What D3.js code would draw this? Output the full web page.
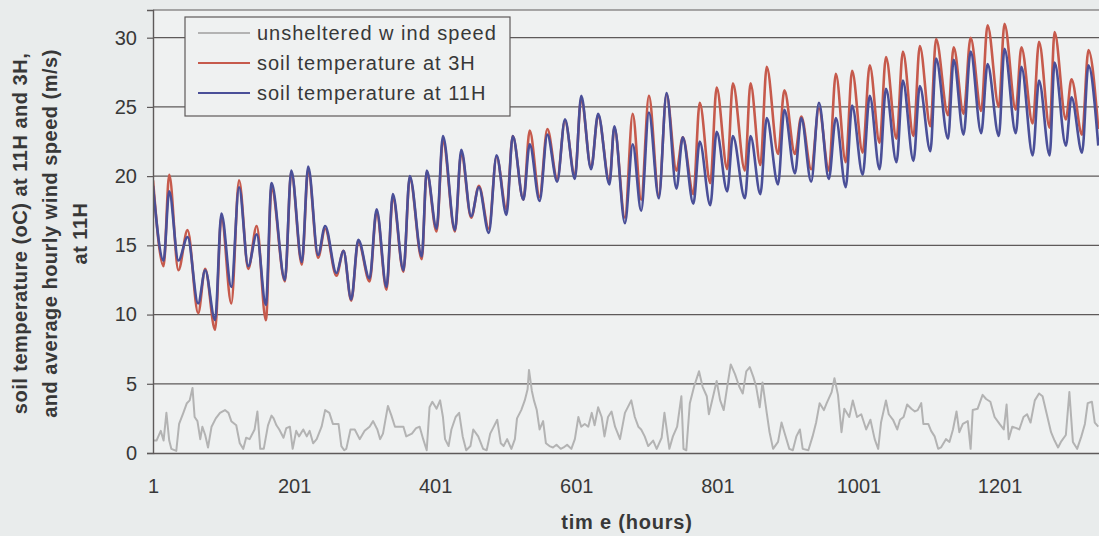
<!DOCTYPE html>
<html>
<head>
<meta charset="utf-8">
<script src="https://cdn.jsdelivr.net/npm/d3@7"></script>
<style>
  html, body { margin: 0; padding: 0; background: #e9ecec; }
  svg { display: block; font-family: "Liberation Sans", Arial, sans-serif; }
</style>
</head>
<body>
<div id="chartContainer"></div>
<script>
// turning points (daily peaks / troughs), hour index
const tempHours = [
  1, 16, 24, 37, 50, 65, 75, 89, 98, 112,
  123, 136, 148, 161, 169, 188, 197, 212, 221, 235,
  245, 261, 271, 282, 292, 308, 318, 332, 341, 356,
  365, 382, 389, 403, 412, 429, 438, 452, 463, 477,
  488, 502, 511, 526, 535, 549, 560, 574, 585, 599,
  608, 622, 632, 648, 655, 670, 681, 693, 704, 718,
  729, 743, 752, 767, 776, 791, 800, 815, 823, 840,
  848, 862, 871, 887, 896, 911, 920, 934, 945, 959,
  969, 983, 992, 1007, 1017, 1031, 1040, 1055, 1064, 1079,
  1088, 1103, 1111, 1128, 1136, 1150, 1160, 1175, 1184, 1200,
  1208, 1224, 1232, 1248, 1257, 1272, 1279, 1295, 1303, 1318,
  1327, 1341
];

// soil temperature at 11H (oC)
const soil11H = [
  19.3, 13.9, 18.9, 13.9, 15.6, 10.8, 13.2, 9.6, 17.3, 12.0,
  19.2, 13.5, 15.8, 10.7, 19.5, 12.5, 20.4, 13.8, 20.7, 14.3,
  16.4, 13.0, 14.6, 11.1, 15.4, 12.6, 17.6, 12.0, 18.7, 13.2,
  20.0, 14.2, 20.4, 16.2, 22.9, 16.1, 21.9, 17.1, 19.2, 15.9,
  21.5, 17.2, 22.9, 18.3, 22.3, 18.2, 23.0, 19.6, 24.1, 19.8,
  25.8, 20.5, 24.5, 19.4, 23.6, 16.6, 22.3, 17.5, 24.6, 18.4,
  26.0, 19.1, 22.8, 18.0, 22.5, 17.9, 23.2, 18.9, 22.9, 18.4,
  22.9, 18.7, 24.2, 19.4, 24.8, 20.2, 24.2, 19.6, 25.3, 19.8,
  24.2, 19.2, 25.1, 20.1, 25.8, 20.5, 26.3, 21.0, 26.9, 21.1,
  26.5, 21.8, 28.5, 22.7, 28.4, 23.0, 29.0, 23.1, 28.1, 22.9,
  29.2, 23.1, 27.9, 21.5, 26.9, 21.5, 28.2, 22.2, 25.7, 21.7,
  28.0, 22.2
];

// soil temperature at 3H (oC)
const soil3H = [
  19.7, 13.5, 20.1, 13.2, 16.1, 10.1, 13.3, 8.9, 17.1, 10.8,
  19.7, 13.3, 16.4, 9.6, 19.2, 12.4, 20.3, 13.6, 20.5, 14.1,
  16.2, 12.8, 14.6, 11.0, 15.3, 12.4, 17.4, 11.8, 18.5, 13.1,
  19.9, 14.0, 20.3, 16.0, 22.6, 16.0, 21.7, 17.0, 19.3, 16.2,
  21.4, 17.6, 22.9, 18.3, 23.3, 18.5, 23.4, 19.8, 24.0, 20.0,
  25.6, 20.6, 24.4, 19.6, 23.5, 17.0, 24.5, 18.3, 25.8, 18.6,
  25.9, 20.4, 22.8, 18.7, 25.3, 19.5, 26.4, 20.5, 26.7, 20.4,
  26.7, 20.8, 27.9, 21.6, 26.2, 21.6, 24.3, 20.5, 24.9, 20.4,
  27.4, 21.0, 27.6, 21.7, 28.0, 22.4, 28.6, 22.7, 29.0, 22.9,
  29.4, 23.6, 29.9, 24.4, 29.3, 24.5, 30.0, 24.7, 30.9, 25.0,
  31.0, 24.8, 29.3, 23.8, 29.7, 23.5, 30.4, 24.1, 27.0, 23.0,
  29.1, 23.4
];

// unsheltered wind speed (m/s), [hour, value]
const windSpeed = [
  [1, 0.9], [6, 0.9], [12, 1.6], [16, 0.9], [20, 2.9], [24, 0.9], [27, 0.3], [34, 0.15], [38, 2.1], [44, 2.9],
  [49, 3.6], [53, 3.8], [57, 4.7], [60, 2.6], [64, 2.3], [68, 1.0], [71, 1.9], [75, 1.3], [79, 0.4], [84, 1.9],
  [90, 2.5], [96, 2.9], [103, 3.1], [108, 2.9], [112, 2.3], [119, 2.0], [124, 0.7], [129, 0.3], [133, 1.1], [138, 1.0],
  [145, 1.7], [149, 3.0], [153, 0.3], [158, 0.3], [164, 2.0], [169, 2.7], [172, 2.5], [176, 2.0], [180, 1.7], [186, 1.1],
  [190, 1.8], [195, 1.9], [199, 0.3], [204, 1.6], [208, 1.2], [214, 1.7], [219, 1.2], [223, 1.6], [228, 0.7], [233, 1.0],
  [240, 1.9], [245, 3.1], [251, 2.9], [256, 2.1], [264, 2.1], [268, 0.5], [272, 0.2], [275, 0.3], [281, 1.7], [287, 1.7],
  [294, 1.0], [301, 1.6], [308, 1.9], [313, 2.3], [319, 1.7], [323, 1.0], [327, 1.4], [334, 3.4], [339, 2.7], [344, 1.9],
  [350, 1.9], [356, 1.9], [360, 1.2], [368, 1.4], [374, 1.8], [379, 1.9], [384, 1.0], [389, 0.2], [393, 3.3], [397, 3.7],
  [403, 3.2], [408, 3.8], [412, 2.6], [415, 1.0], [420, 0.5], [424, 1.7], [430, 2.6], [435, 2.9], [440, 1.2], [445, 0.2],
  [451, 0.5], [455, 1.7], [462, 1.2], [469, 0.3], [474, 0.2], [479, 1.4], [483, 1.8], [489, 2.4], [494, 0.7], [498, 0.5],
  [503, 1.0], [509, 0.3], [514, 1.0], [517, 2.5], [523, 3.1], [528, 3.8], [532, 4.6], [534, 6.0], [538, 4.5], [541, 3.8],
  [545, 3.1], [549, 1.7], [554, 2.3], [558, 0.7], [563, 0.5], [568, 0.4], [573, 0.6], [579, 0.3], [583, 0.4], [588, 0.6],
  [594, 0.3], [599, 1.0], [604, 2.6], [608, 1.9], [613, 2.1], [618, 1.9], [623, 2.9], [627, 2.0], [632, 3.3], [637, 2.6],
  [641, 1.2], [646, 2.6], [651, 3.0], [656, 1.9], [663, 1.0], [670, 2.9], [679, 3.8], [684, 2.6], [689, 1.9], [693, 1.7],
  [698, 1.2], [703, 0.5], [710, 0.9], [715, 0.3], [722, 1.1], [726, 2.9], [733, 0.3], [738, 1.2], [744, 1.9], [750, 4.1],
  [753, 0.3], [757, 0.2], [762, 3.6], [768, 4.8], [775, 5.9], [780, 4.8], [786, 4.1], [789, 2.8], [795, 4.1], [800, 5.2],
  [805, 3.8], [810, 3.1], [815, 4.8], [820, 6.4], [826, 5.7], [832, 4.8], [837, 4.3], [842, 5.9], [847, 6.2], [852, 5.5],
  [856, 4.8], [861, 3.3], [865, 5.1], [871, 2.9], [875, 1.5], [880, 0.3], [887, 0.8], [892, 2.2], [896, 1.5], [903, 0.3],
  [908, 0.2], [913, 1.2], [918, 1.7], [922, 0.3], [930, 0.2], [936, 1.2], [941, 2.2], [946, 3.6], [952, 3.1], [956, 3.6],
  [963, 4.4], [967, 5.4], [972, 4.2], [977, 1.5], [981, 3.2], [988, 2.6], [993, 3.8], [999, 2.6], [1005, 2.8], [1012, 1.7],
  [1018, 2.4], [1024, 1.0], [1029, 0.3], [1033, 2.2], [1040, 3.8], [1044, 2.8], [1050, 2.4], [1056, 1.7], [1060, 2.4], [1065, 2.6],
  [1070, 3.5], [1076, 3.2], [1081, 3.0], [1085, 3.1], [1090, 3.6], [1093, 2.1], [1100, 2.1], [1104, 1.6], [1109, 1.2], [1114, 0.3],
  [1118, 0.4], [1125, 1.0], [1130, 0.8], [1135, 1.7], [1140, 3.0], [1144, 1.5], [1149, 2.1], [1156, 2.3], [1160, 0.3], [1163, 3.1],
  [1170, 3.2], [1177, 4.2], [1182, 3.9], [1188, 3.7], [1194, 2.6], [1201, 2.1], [1207, 1.7], [1211, 3.5], [1214, 1.0], [1219, 1.9],
  [1225, 1.8], [1229, 1.7], [1235, 2.6], [1240, 2.8], [1245, 2.2], [1251, 3.8], [1257, 4.3], [1262, 4.1], [1268, 2.8], [1274, 1.5],
  [1279, 0.9], [1284, 0.4], [1288, 0.8], [1295, 1.3], [1300, 4.4], [1305, 0.8], [1311, 0.3], [1317, 1.2], [1322, 2.1], [1326, 3.6],
  [1332, 3.7], [1336, 2.2], [1341, 1.9]
];

const xTicks = [1, 201, 401, 601, 801, 1001, 1201];
const yTicks = [0, 5, 10, 15, 20, 25, 30];
const legendLabels = ["unsheltered w ind speed", "soil temperature at 3H", "soil temperature at 11H"];
const seriesColors = ["#b3b3b3", "#c65a4c", "#4a4f98"];

const W = 1099, H = 536;
const margin = { top: 10, right: 0, bottom: 83, left: 153 };
const width = W - margin.left - margin.right;
const height = H - margin.top - margin.bottom;
const textColor = "#383838";
const gridColor = "#5e5a5a";

const svg = d3.select("#chartContainer")
  .append("svg")
  .attr("width", W)
  .attr("height", H);

const g = svg.append("g")
  .attr("transform", `translate(${margin.left}, ${margin.top})`);

// scales
const x = d3.scaleLinear().domain([1, 1342]).range([0, width]);
const y = d3.scaleLinear().domain([0, 32]).range([height, 0]);

// plot area
g.append("rect")
  .attr("width", width)
  .attr("height", height)
  .attr("fill", "#eff1f1");

g.append("clipPath").attr("id", "plotClip")
  .append("rect").attr("width", width).attr("height", height);

// gridlines
g.append("g")
  .selectAll("line")
  .data(yTicks.filter(d => d > 0))
  .enter()
  .append("line")
  .attr("x1", 0)
  .attr("x2", width)
  .attr("y1", d => y(d))
  .attr("y2", d => y(d))
  .attr("stroke", gridColor)
  .attr("stroke-width", 1.2);

// top border
g.append("line")
  .attr("x1", 0).attr("x2", width)
  .attr("y1", 0).attr("y2", 0)
  .attr("stroke", gridColor)
  .attr("stroke-width", 1.2);

// lines
const lines = g.append("g").attr("clip-path", "url(#plotClip)");

const windLine = d3.line()
  .x(d => x(d[0]))
  .y(d => y(d[1]));

lines.append("path")
  .datum(windSpeed)
  .attr("fill", "none")
  .attr("stroke", seriesColors[0])
  .attr("stroke-width", 2)
  .attr("stroke-linejoin", "round")
  .attr("d", windLine);

const tempLine = d3.line()
  .x((d, i) => x(tempHours[i]))
  .y(d => y(d))
  .curve(d3.curveMonotoneX);

lines.append("path")
  .datum(soil3H)
  .attr("fill", "none")
  .attr("stroke", seriesColors[1])
  .attr("stroke-width", 2.6)
  .attr("stroke-linejoin", "round")
  .attr("d", tempLine);

lines.append("path")
  .datum(soil11H)
  .attr("fill", "none")
  .attr("stroke", seriesColors[2])
  .attr("stroke-width", 2.6)
  .attr("stroke-linejoin", "round")
  .attr("d", tempLine);

// y axis
const yAxis = g.append("g")
  .call(d3.axisLeft(y).tickValues(yTicks).tickSize(6).tickPadding(10).tickFormat(d3.format("d")));
yAxis.select(".domain").attr("stroke", gridColor).attr("stroke-width", 1.4);
yAxis.selectAll(".tick line").attr("stroke", gridColor).attr("stroke-width", 1.2);
yAxis.selectAll("text")
  .attr("fill", textColor)
  .attr("font-size", "20px")
  .attr("font-family", "Liberation Sans, Arial, sans-serif");

// x axis
const xAxis = g.append("g")
  .attr("transform", `translate(0, ${height})`)
  .call(d3.axisBottom(x).tickValues(xTicks).tickSize(0).tickPadding(26).tickFormat(d3.format("d")));
xAxis.select(".domain").attr("stroke", gridColor).attr("stroke-width", 1.4);
xAxis.selectAll("text")
  .attr("fill", textColor)
  .attr("font-size", "20px")
  .attr("font-family", "Liberation Sans, Arial, sans-serif");

// x axis title
svg.append("text")
  .attr("x", 627)
  .attr("y", 529)
  .attr("text-anchor", "middle")
  .attr("font-size", "20px")
  .attr("font-weight", "bold")
  .attr("letter-spacing", "0.8px")
  .attr("fill", textColor)
  .text("tim e (hours)");

// y axis title, three lines
const yTitle = ["soil temperature (oC) at 11H and 3H,", "and average hourly wind speed (m/s)", "at 11H"];
svg.selectAll(".ytitle")
  .data(yTitle)
  .enter()
  .append("text")
  .attr("class", "ytitle")
  .attr("transform", (d, i) => `translate(${20 + i * 30}, ${margin.top + height / 2 + 2}) rotate(-90)`)
  .attr("text-anchor", "middle")
  .attr("dy", "0.36em")
  .attr("font-size", "20px")
  .attr("font-weight", "bold")
  .attr("letter-spacing", "0.5px")
  .attr("fill", textColor)
  .text(d => d);

// legend
const legend = svg.append("g").attr("transform", "translate(185, 17)");
legend.append("rect")
  .attr("width", 325)
  .attr("height", 99)
  .attr("fill", "#eff1f1")
  .attr("stroke", gridColor)
  .attr("stroke-width", 1.2);

const rows = legend.selectAll(".row")
  .data(legendLabels)
  .enter()
  .append("g")
  .attr("class", "row")
  .attr("transform", (d, i) => `translate(0, ${16 + i * 30})`);

rows.append("line")
  .attr("x1", 13).attr("x2", 65)
  .attr("stroke", (d, i) => seriesColors[i])
  .attr("stroke-width", 2);

rows.append("text")
  .attr("x", 72)
  .attr("dy", "0.35em")
  .attr("font-size", "20px")
  .attr("letter-spacing", "1px")
  .attr("fill", textColor)
  .text(d => d);
</script>
</body>
</html>
